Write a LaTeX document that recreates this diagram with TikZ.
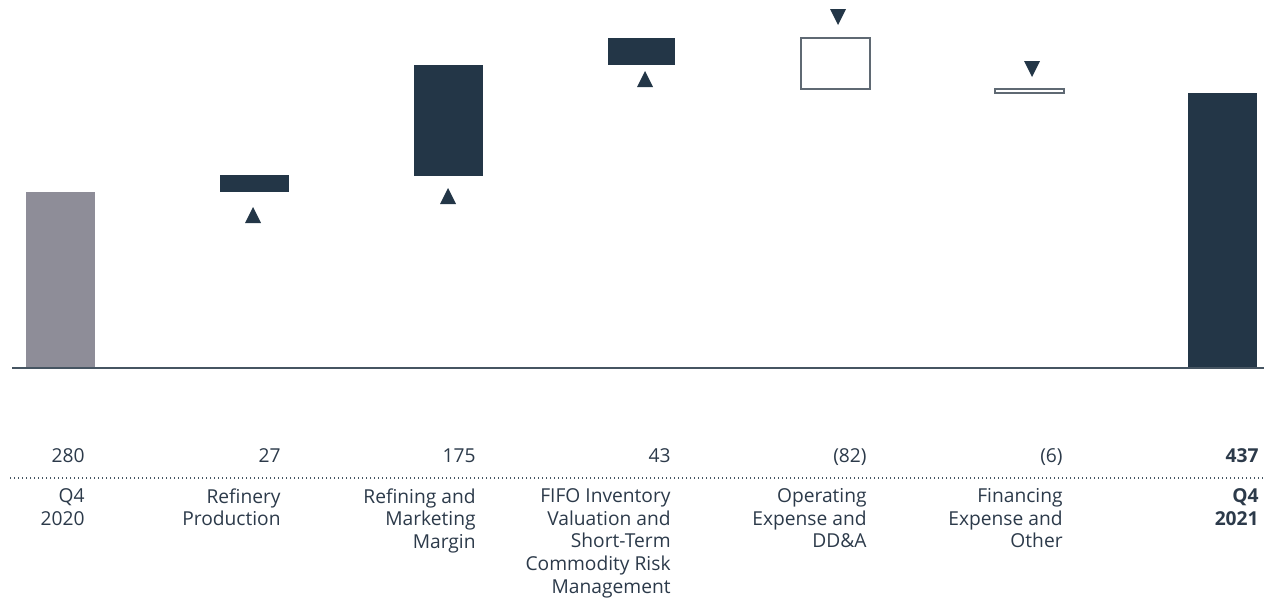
\documentclass[tikz,border=0pt]{standalone}
\usepackage{fontspec}
\setmainfont{Open Sans}
\usepackage{tikz}
\usetikzlibrary{positioning}
\definecolor{barnavy}{RGB}{35,54,71}
\definecolor{bargray}{RGB}{142,141,152}
\definecolor{txtnavy}{RGB}{44,58,74}
\definecolor{axisgray}{RGB}{70,85,98}
\definecolor{boxgray}{RGB}{95,105,115}

\begin{document}
\begin{tikzpicture}[x=0.5pt, y=-0.5pt,
    rise/.style={fill=barnavy},
    drop/.style={draw=boxgray, line width=0.6pt, fill=white},
    amount/.style={anchor=base east, inner sep=0pt, text=txtnavy, font=\fontsize{9.6}{11.35}\selectfont},
    caption/.style={amount, anchor=north east, align=right, execute at begin node=\strut}]
    \useasboundingbox (0,0) rectangle (1264,600);

    % Start and end totals
    \fill[bargray] (26,192) rectangle (95,368);
    \fill[barnavy] (1188,93) rectangle (1257,368);

    % Increases
    \fill[rise] (220,175) rectangle (289,192);
    \fill[rise] (414,65) rectangle (483,176);
    \fill[rise] (608,38) rectangle (675,65);

    % Decreases (outlined)
    \draw[drop] (801,38) rectangle (870,89);
    \draw[drop] (995,89) rectangle (1064,93);

    % Markers
    \foreach \x/\y in {253/223, 448/204, 645/87} {
      \fill[barnavy] (\x-8,\y) -- (\x+8,\y) -- (\x,\y-16) -- cycle;
    }
    \foreach \x/\y in {838/9, 1032/61} {
      \fill[barnavy] (\x-8,\y) -- (\x+8,\y) -- (\x,\y+16) -- cycle;
    }

    % Base line and dotted rule
    \draw[axisgray, line width=1pt] (12,368) -- (1264,368);
    \draw[axisgray, line width=0.6pt, dash pattern=on 0.5pt off 1.5pt] (10,478) -- (1264,478);

    % Values
    \node[amount] (v1) at (85,462) {280};
    \node[amount] (v2) at (281,462) {27};
    \node[amount] (v3) at (476,462) {175};
    \node[amount] (v4) at (671,462) {43};
    \node[amount] (v5) at (867,462) {(82)};
    \node[amount] (v6) at (1063,462) {(6)};
    \node[amount, font=\fontsize{9.6}{11.35}\selectfont\bfseries] (v7) at (1259,462) {437};

    % Category labels
    \node[caption] (l1) at (85,488.1) {Q4\\2020};
    \node[caption] (l2) at (281,488.1) {Refinery\\Production};
    \node[caption] (l3) at (476,488.1) {Refining and\\Marketing\\Margin};
    \node[caption] (l4) at (671,488.1) {FIFO Inventory\\Valuation and\\Short-Term\\Commodity Risk\\Management};
    \node[caption] (l5) at (867,488.1) {Operating\\Expense and\\DD\&A};
    \node[caption] (l6) at (1063,488.1) {Financing\\Expense and\\Other};
    \node[caption, font=\fontsize{9.6}{11.35}\selectfont\bfseries] (l7) at (1259,488.1) {Q4\\2021};
\end{tikzpicture}
\end{document}
